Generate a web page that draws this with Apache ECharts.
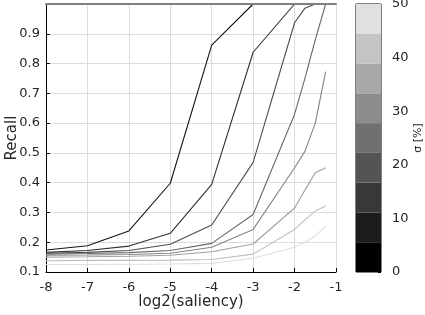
<!DOCTYPE html>
<html><head><meta charset="utf-8">
<script src="https://cdn.jsdelivr.net/npm/echarts@6/dist/echarts.min.js"></script>
<style>html,body{margin:0;padding:0;background:#fff}#c{width:425px;height:315px}</style>
</head><body><div id="c"></div>
<script>
const xVals = [-8, -7, -6, -5, -4, -3, -2, -1.75, -1.5, -1.25];
const recall1 = [0.174, 0.188, 0.238, 0.398, 0.862, 1, 1, 1, 1, 1];
const recall2 = [0.166, 0.172, 0.187, 0.230, 0.394, 0.838, 1, 1, 1, 1];
const recall3 = [0.163, 0.166, 0.172, 0.193, 0.258, 0.468, 0.937, 0.986, 1, 1];
const recall4 = [0.160, 0.162, 0.165, 0.172, 0.196, 0.293, 0.630, 0.750, 0.880, 1];
const recall5 = [0.156, 0.157, 0.159, 0.163, 0.183, 0.243, 0.450, 0.505, 0.600, 0.773];
const recall6 = [0.150, 0.151, 0.153, 0.156, 0.168, 0.194, 0.315, 0.375, 0.433, 0.450];
const recall7 = [0.138, 0.139, 0.139, 0.140, 0.142, 0.160, 0.243, 0.275, 0.305, 0.322];
const recall8 = [0.125, 0.125, 0.126, 0.127, 0.129, 0.146, 0.183, 0.200, 0.221, 0.254];
const xTicks = [-8, -7, -6, -5, -4, -3, -2, -1];
const yTicks = [0.1, 0.2, 0.3, 0.4, 0.5, 0.6, 0.7, 0.8, 0.9];
const sigmaBandEdges = [0, 50/9, 100/9, 150/9, 200/9, 250/9, 300/9, 350/9, 400/9, 50];
const sigmaTicks = [0, 10, 20, 30, 40, 50];

const allRecall = [recall1, recall2, recall3, recall4, recall5, recall6, recall7, recall8];
const lineGrays = [20, 48, 76, 104, 132, 160, 190, 222];
const bandGrays = [0, 28, 56, 84, 112, 140, 168, 196, 224];
const g = v => 'rgb(' + v + ',' + v + ',' + v + ')';
const FONT = 'DejaVu Sans';

const series = allRecall.map((arr, i) => ({
  type: 'line', xAxisIndex: 0, yAxisIndex: 0,
  data: arr.map((v, j) => [xVals[j], v]),
  showSymbol: false, symbol: 'none', z: 2,
  lineStyle: {color: g(lineGrays[i]), width: 1.1},
  emphasis: {disabled: true}
}));

for (let k = 0; k < bandGrays.length; k++) {
  series.push({
    type: 'bar', xAxisIndex: 2, yAxisIndex: 1, stack: 'cb',
    data: [sigmaBandEdges[k + 1] - sigmaBandEdges[k]],
    barWidth: '100%', itemStyle: {color: g(bandGrays[k])},
    emphasis: {disabled: true}
  });
}

const chart = echarts.init(document.getElementById('c'), null, {renderer: 'canvas'});
chart.setOption({
  animation: false,
  textStyle: {fontFamily: FONT},
  grid: [
    {left: 46, right: 89, top: 4, bottom: 43, containLabel: false, outerBoundsMode: 'none'},
    {left: 356, width: 25, top: 4, bottom: 43, show: true, borderColor: '#000', borderWidth: 1, containLabel: false, outerBoundsMode: 'none'}
  ],
  xAxis: [
    {type: 'value', gridIndex: 0, min: -8, max: -1, interval: 1,
     name: 'log2(saliency)', nameLocation: 'middle', nameGap: 23, nameMoveOverlap: false,
     nameTextStyle: {fontSize: 15, color: '#262626', fontFamily: FONT},
     axisLine: {lineStyle: {color: '#000', width: 1}},
     axisTick: {inside: true, length: 4, lineStyle: {color: '#000'}},
     axisLabel: {fontSize: 13, color: '#262626', margin: 9, fontFamily: FONT},
     splitLine: {show: true, lineStyle: {color: '#dcdcdc', width: 1}}},
    {type: 'value', gridIndex: 0, position: 'top', min: -8, max: -1, z: 50,
     axisLine: {show: true, lineStyle: {color: '#808080', width: 2}},
     axisTick: {show: false}, axisLabel: {show: false}, splitLine: {show: false}},
    {type: 'category', gridIndex: 1, data: ['σ'],
     axisLine: {show: false}, axisTick: {show: false}, axisLabel: {show: false}}
  ],
  yAxis: [
    {type: 'value', gridIndex: 0, min: 0.1, max: 1.0, interval: 0.1,
     name: 'Recall', nameLocation: 'middle', nameGap: 26, nameMoveOverlap: false,
     nameTextStyle: {fontSize: 15, color: '#262626', fontFamily: FONT},
     axisLine: {show: true, lineStyle: {color: '#000', width: 1}},
     axisTick: {inside: true, length: 4, lineStyle: {color: '#000'}},
     axisLabel: {fontSize: 13, color: '#262626', margin: 6, fontFamily: FONT,
       formatter: v => { const r = Math.round(v * 10) / 10; return yTicks.some(t => Math.abs(t - r) < 1e-6) ? r.toFixed(1) : ''; }},
     splitLine: {show: true, lineStyle: {color: '#dcdcdc', width: 1}}},
    {type: 'value', gridIndex: 1, min: 0, max: 50, interval: 10, position: 'right',
     name: 'σ [%]', nameLocation: 'middle', nameGap: 32, nameRotate: 90, nameMoveOverlap: false,
     nameTextStyle: {fontSize: 11, color: '#262626', fontFamily: FONT},
     axisLine: {show: false},
     axisTick: {show: true, inside: true, length: 3, lineStyle: {color: '#000'}},
     axisLabel: {fontSize: 13, color: '#262626', margin: 11, fontFamily: FONT,
       formatter: v => sigmaTicks.includes(Math.round(v)) ? String(Math.round(v)) : ''},
     splitLine: {show: false}}
  ],
  series: series
});
</script></body></html>
